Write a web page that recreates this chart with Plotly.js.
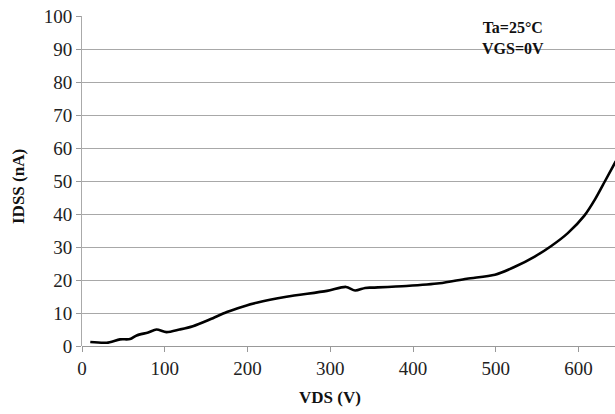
<!DOCTYPE html>
<html>
<head>
<meta charset="utf-8">
<script src="https://cdn.plot.ly/plotly-3.0.1.min.js"></script>
<style>html,body{margin:0;padding:0;background:#fff;}#chart{width:615px;height:414px;}</style>
</head>
<body>
<div id="chart"></div>
<script>
const vds = [10,30,46,58,66,80,90,102,118,134,155,175,194,211,247,296,319,330,342,351,392,432,465,499,523,547,567,587,607,620,632,645];
const idss = [1.2,1.0,2.0,2.1,3.2,4.1,5.0,4.2,5.0,6.0,8.1,10.3,11.9,13.1,14.9,16.7,17.9,16.8,17.6,17.7,18.2,19.0,20.4,21.6,24.0,27.1,30.3,34.2,39.5,44.5,50.0,56.0];
const xTicks = [0,100,200,300,400,500,600];
const yTicks = [0,10,20,30,40,50,60,70,80,90,100];
const xTitle = "VDS (V)";
const yTitle = "IDSS (nA)";
const noteText = "Ta=25°C<br>VGS=0V";

const serif = "Liberation Serif";

Plotly.newPlot("chart", [{
  x: vds, y: idss, type: "scatter", mode: "lines",
  line: {color: "#000", width: 2.6, shape: "spline", smoothing: 0.8},
  hoverinfo: "skip"
}], {
  width: 615, height: 414,
  margin: {l: 82, r: 0, t: 16, b: 68, pad: 0},
  paper_bgcolor: "#fff", plot_bgcolor: "#fff",
  showlegend: false,
  xaxis: {
    range: [0, 644], tickmode: "array", tickvals: xTicks, ticktext: xTicks.map(String),
    showgrid: false, zeroline: false,
    showline: false, ticks: "outside", ticklen: 5, tickcolor: "#999", tickwidth: 1,
    tickfont: {family: serif, size: 19, color: "#222"}
  },
  yaxis: {
    range: [0, 100], tickmode: "array", tickvals: yTicks, ticktext: yTicks.map(String),
    showgrid: true, gridcolor: "#a8a8a8", gridwidth: 1,
    zeroline: true, zerolinecolor: "#999", zerolinewidth: 1,
    showline: true, linecolor: "#aaa", linewidth: 1,
    ticks: "outside", ticklen: 5, tickcolor: "#999", tickwidth: 1,
    tickfont: {family: serif, size: 19, color: "#222"}
  },
  annotations: [
    {text: "<b>" + noteText + "</b>", xref: "paper", yref: "paper", x: (513-82)/533, y: (346-38)/330,
     xanchor: "center", yanchor: "middle", showarrow: false, align: "center",
     font: {family: serif, size: 16, color: "#111"}},
    {text: "<b>" + xTitle + "</b>", xref: "x", yref: "paper", x: 300, y: -(398-346)/330,
     xanchor: "center", yanchor: "middle", showarrow: false,
     font: {family: serif, size: 17, color: "#111"}},
    {text: "<b>" + yTitle + "</b>", xref: "paper", yref: "paper", x: -(82-18)/533, y: (346-187)/330,
     xanchor: "center", yanchor: "middle", showarrow: false, textangle: -90,
     font: {family: serif, size: 17, color: "#111"}}
  ]
}, {staticPlot: true, displayModeBar: false});
</script>
</body>
</html>
